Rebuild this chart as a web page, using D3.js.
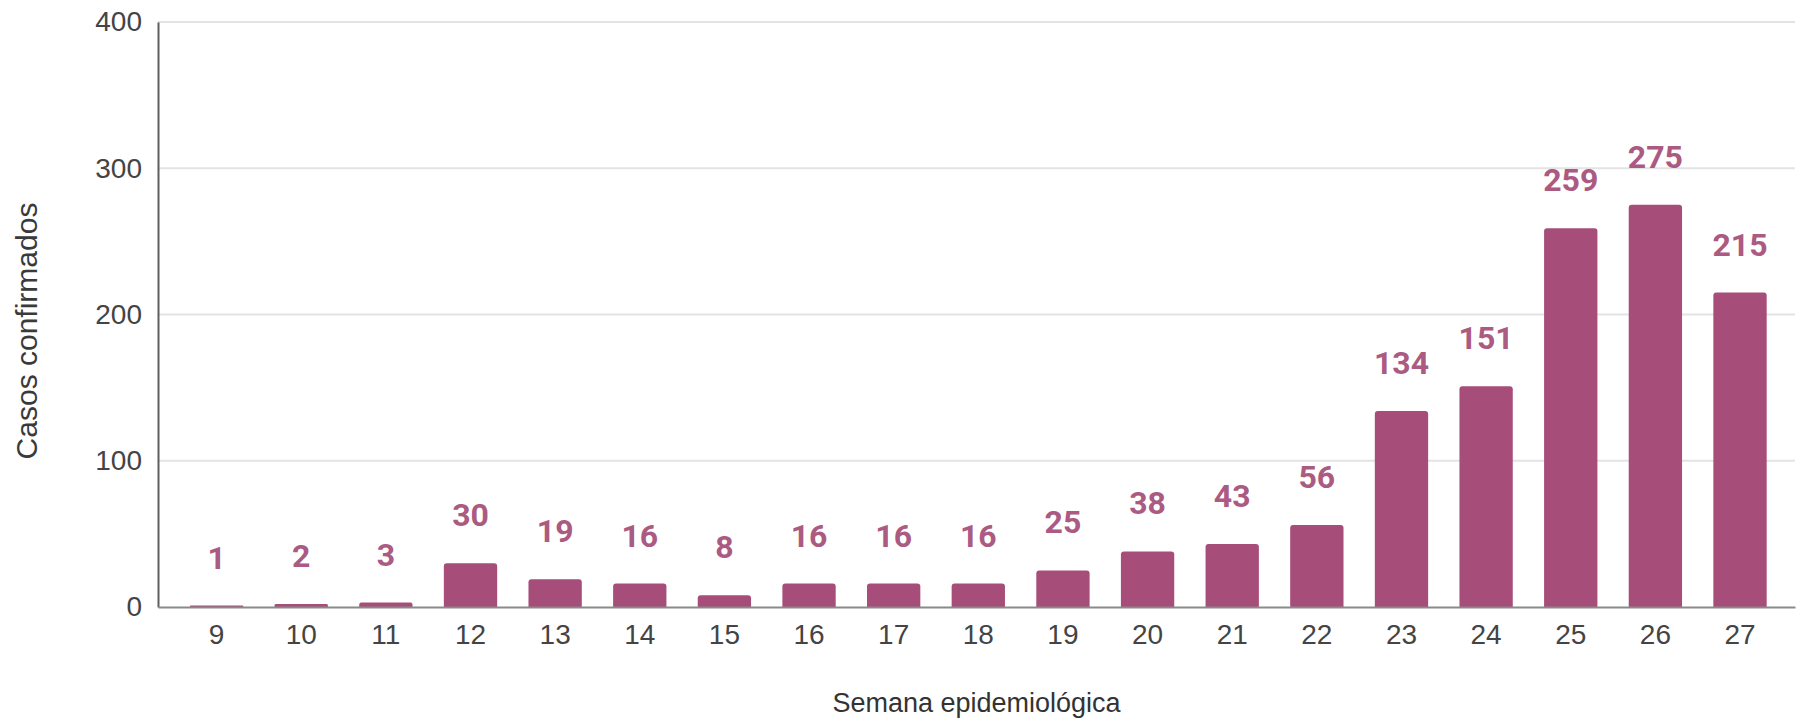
<!DOCTYPE html>
<html>
<head>
<meta charset="utf-8">
<script src="https://cdn.jsdelivr.net/npm/d3@7"></script>
<style>
  html, body { margin: 0; padding: 0; background: #fff; }
  svg { display: block; font-family: "Liberation Sans", Arial, sans-serif; }
</style>
</head>
<body>
<svg id="chart" width="1801" height="718"></svg>
<script>
const weeks = ["9","10","11","12","13","14","15","16","17","18","19","20","21","22","23","24","25","26","27"];
const cases = [1,2,3,30,19,16,8,16,16,16,25,38,43,56,134,151,259,275,215];
const yTicks = [0,100,200,300,400];
const xTitle = "Semana epidemiológica";
const yTitle = "Casos confirmados";

(function () {
const svg = d3.select("#chart");
const mLeft = 158, mRight = 1795, mTop = 22, mBottom = 607;
const barColor = "#a64d79";
const tickFont = "'Liberation Sans', Arial, sans-serif";

const x = d3.scaleBand().domain(weeks).range([mLeft, mRight]).paddingInner(0.37).paddingOuter(0.356).align(0.53);
const y = d3.scaleLinear().domain([0, 400]).range([mBottom, mTop]);

// gridlines
svg.append("g").selectAll("line").data(yTicks.filter(d => d > 0)).join("line")
  .attr("x1", mLeft).attr("x2", mRight)
  .attr("y1", d => y(d)).attr("y2", d => y(d))
  .attr("stroke", "#e3e3e3").attr("stroke-width", 2);

// y axis
const yAxis = d3.axisLeft(y).tickValues(yTicks).tickSize(0).tickPadding(16);
const gy = svg.append("g").attr("transform", `translate(${mLeft},0)`).call(yAxis);
gy.select(".domain").attr("stroke", "#5f5f5f").attr("stroke-width", 2);
gy.selectAll("text").attr("font-size", 28).attr("fill", "#444").attr("font-family", tickFont);

// bars
const bw = x.bandwidth();
svg.append("g").selectAll("path").data(cases).join("path")
  .attr("fill", barColor)
  .attr("d", (d, i) => {
    const x0 = x(weeks[i]), x1 = x0 + bw, y0 = y(0), y1 = y(d);
    const r = Math.min(3, (y0 - y1) / 2);
    return `M${x0},${y0}V${y1 + r}Q${x0},${y1} ${x0 + r},${y1}H${x1 - r}Q${x1},${y1} ${x1},${y1 + r}V${y0}Z`;
  });

// x axis
const xAxis = d3.axisBottom(x).tickSize(0).tickPadding(17);
const gx = svg.append("g").attr("transform", `translate(0,${mBottom})`).call(xAxis);
gx.select(".domain").attr("stroke", "#8a8a8a").attr("stroke-width", 2);
gx.selectAll("text").attr("font-size", 28).attr("fill", "#444").attr("font-family", tickFont);

// value labels
svg.append("g").selectAll("text").data(cases).join("text")
  .attr("x", (d, i) => x(weeks[i]) + bw / 2)
  .attr("y", d => y(d) - 37)
  .attr("text-anchor", "middle")
  .attr("font-family", "Roboto, 'Noto Sans', sans-serif")
  .attr("font-size", 32).attr("font-weight", "bold")
  .attr("fill", "#ab5a82")
  .text(d => d);

// axis titles
svg.append("text")
  .attr("x", (mLeft + mRight) / 2).attr("y", 712)
  .attr("text-anchor", "middle").attr("font-size", 27).attr("fill", "#333")
  .text(xTitle);

svg.append("text")
  .attr("transform", `translate(37,331) rotate(-90)`)
  .attr("text-anchor", "middle").attr("font-size", 30).attr("fill", "#3a3a3a")
  .text(yTitle);
})();
</script>
</body>
</html>
